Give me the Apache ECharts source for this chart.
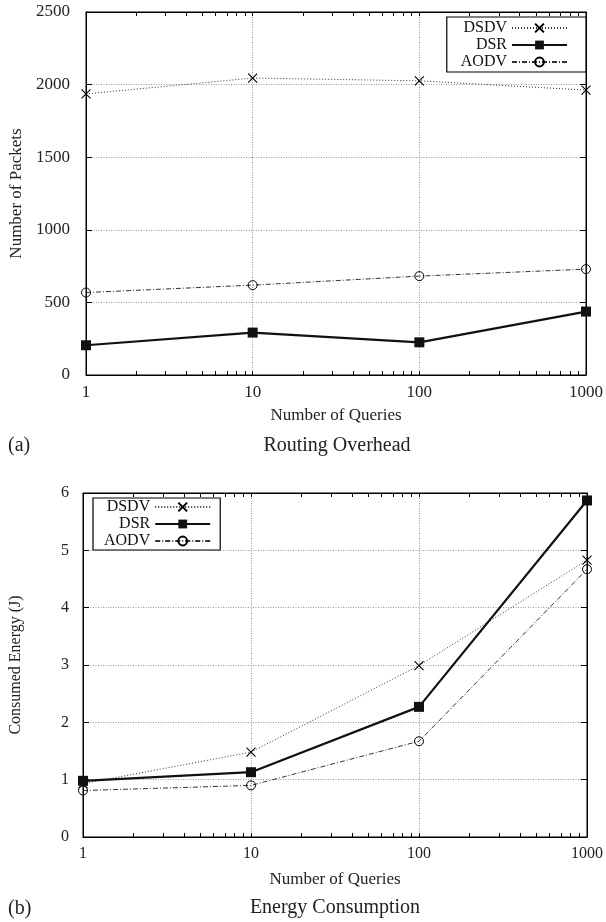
<!DOCTYPE html>
<html>
<head>
<meta charset="utf-8">
<script src="https://cdn.jsdelivr.net/npm/echarts@6/dist/echarts.min.js"></script>
<style>html,body{margin:0;padding:0;background:#fff}#c{width:606px;height:922px}</style>
</head>
<body>
<div id="c"></div>
<script>
// ---- data ----
const queries = [1, 10, 100, 1000];
const seriesNames = ['DSDV', 'DSR', 'AODV'];
const dsdvPackets = [1936, 2045, 2026, 1962];
const dsrPackets = [205, 292, 225, 437];
const aodvPackets = [568, 619, 681, 729];
const dsdvEnergy = [0.93, 1.48, 2.99, 4.83];
const dsrEnergy = [0.98, 1.13, 2.27, 5.87];
const aodvEnergy = [0.81, 0.90, 1.67, 4.67];
const xTickLabels = ['1', '10', '100', '1000'];
const xTickValues = [1, 2, 3, 4, 5, 6, 7, 8, 9, 10, 20, 30, 40, 50, 60, 70, 80, 90, 100, 200, 300, 400, 500, 600, 700, 800, 900, 1000];
const subtitles = ['Routing Overhead', 'Energy Consumption'];
const panelTags = ['(a)', '(b)'];

const FONT = '"Liberation Serif", "DejaVu Serif", serif';

function pairs(vals) { return queries.map((q, i) => [q, vals[i]]); }

const styles = {
  DSDV: {
    lineStyle: { color: '#333', width: 1, type: [1, 2] },
    symbol: 'path://M0,0L10,10M10,0L0,10',
    symbolSize: 9,
    itemStyle: { color: '#000', borderColor: '#000', borderWidth: 1.1 }
  },
  DSR: {
    lineStyle: { color: '#111', width: 2.2, type: 'solid' },
    symbol: 'rect',
    symbolSize: 10,
    itemStyle: { color: '#111', borderColor: '#111', borderWidth: 0 }
  },
  AODV: {
    lineStyle: { color: '#333', width: 1, type: [5, 2, 1, 2] },
    symbol: 'circle',
    symbolSize: 9,
    itemStyle: { color: 'rgba(0,0,0,0)', borderColor: '#000', borderWidth: 1 }
  }
};

function mkSeries(name, vals, gi) {
  const s = styles[name];
  return {
    type: 'line', name: name,
    xAxisIndex: gi * 3, yAxisIndex: gi * 2,
    data: pairs(vals),
    symbol: s.symbol, symbolSize: s.symbolSize, symbolKeepAspect: true,
    lineStyle: s.lineStyle, itemStyle: s.itemStyle,
    clip: false, animation: false, z: 5
  };
}

const grids = [
  { left: 85, right: 17, top: 12, height: 363, show: true, borderColor: '#000', borderWidth: 1 },
  { left: 83, right: 16, top: 493, height: 344, show: true, borderColor: '#000', borderWidth: 1 }
];

function xAxes(gi, nameGap, labelSize) {
  const base = { type: 'log', logBase: 10, min: 1, max: 1000, gridIndex: gi };
  return [
    Object.assign({}, base, {
      position: 'bottom',
      name: 'Number of Queries', nameLocation: 'middle', nameGap: nameGap,
      nameTextStyle: { fontFamily: FONT, fontSize: 17, color: '#222' },
      axisLine: { show: true, onZero: false, lineStyle: { color: '#000', width: 1 } },
      axisTick: { show: true, inside: true, length: 4, customValues: xTickValues, lineStyle: { color: '#000' } },
      axisLabel: { show: true, margin: 9, fontFamily: FONT, fontSize: labelSize, color: '#222',
        formatter: function (v) { const i = queries.indexOf(v); return i >= 0 ? xTickLabels[i] : ''; } },
      splitLine: { show: false }
    }),
    Object.assign({}, base, {
      position: 'top',
      axisLine: { show: true, onZero: false, lineStyle: { color: '#000', width: 1 } },
      axisTick: { show: true, inside: true, length: 4, customValues: xTickValues, lineStyle: { color: '#000' } },
      axisLabel: { show: false },
      splitLine: { show: false }
    }),
    Object.assign({}, base, {
      position: 'bottom',
      axisLine: { show: false, onZero: false },
      axisTick: { show: false },
      axisLabel: { show: false },
      splitLine: { show: true, lineStyle: { color: '#999', width: 1, type: [1, 1.5] } }
    })
  ];
}

function yAxes(gi, name, max, interval, nameGap, labelSize, margin) {
  const base = { type: 'value', min: 0, max: max, interval: interval, gridIndex: gi };
  return [
    Object.assign({}, base, {
      position: 'left',
      name: name, nameLocation: 'middle', nameGap: nameGap,
      nameTextStyle: { fontFamily: FONT, fontSize: labelSize === 17 ? 17 : 16, color: '#222' },
      axisLine: { show: true, onZero: false, lineStyle: { color: '#000', width: 1 } },
      axisTick: { show: true, inside: true, length: 6, lineStyle: { color: '#000' } },
      axisLabel: { show: true, margin: margin, fontFamily: FONT, fontSize: labelSize, color: '#222',
        formatter: function (v) { return String(v); } },
      splitLine: { show: true, lineStyle: { color: '#999', width: 1, type: [1, 1.5] } }
    }),
    Object.assign({}, base, {
      position: 'right',
      axisLine: { show: true, onZero: false, lineStyle: { color: '#000', width: 1 } },
      axisTick: { show: true, inside: true, length: 6, lineStyle: { color: '#000' } },
      axisLabel: { show: false },
      splitLine: { show: false }
    })
  ];
}

const legendCommon = {
  orient: 'vertical', align: 'right',
  data: seriesNames,
  itemWidth: 55, itemHeight: 11, itemGap: 1,
  borderColor: '#000', borderWidth: 1.2, borderRadius: 0,
  backgroundColor: '#fff',
  textStyle: { fontFamily: FONT, fontSize: 16, color: '#111', lineHeight: 16 },
  selectedMode: false
};

const option = {
  animation: false,
  backgroundColor: '#fff',
  grid: grids,
  xAxis: xAxes(0, 32, 17).concat(xAxes(1, 34, 16)),
  yAxis: yAxes(0, 'Number of Packets', 2500, 500, 61, 17, 16).concat(
         yAxes(1, 'Consumed Energy (J)', 6, 1, 59, 16, 14)),
  legend: [
    Object.assign({}, legendCommon, { right: 20, top: 17, padding: [3, 18, 2, 14] }),
    Object.assign({}, legendCommon, { left: 93, top: 498, padding: [1, 9, 1, 11] })
  ],
  series: [
    mkSeries('DSDV', dsdvPackets, 0),
    mkSeries('DSR', dsrPackets, 0),
    mkSeries('AODV', aodvPackets, 0),
    mkSeries('DSDV', dsdvEnergy, 1),
    mkSeries('DSR', dsrEnergy, 1),
    mkSeries('AODV', aodvEnergy, 1)
  ],
  graphic: [
    { type: 'text', x: 8, y: 446, style: { text: panelTags[0], font: '20px ' + FONT, fill: '#222', textVerticalAlign: 'middle' } },
    { type: 'text', x: 337, y: 446, style: { text: subtitles[0], font: '20px ' + FONT, fill: '#222', textAlign: 'center', textVerticalAlign: 'middle' } },
    { type: 'text', x: 8, y: 909, style: { text: panelTags[1], font: '20px ' + FONT, fill: '#222', textVerticalAlign: 'middle' } },
    { type: 'text', x: 335, y: 908, style: { text: subtitles[1], font: '20px ' + FONT, fill: '#222', textAlign: 'center', textVerticalAlign: 'middle' } }
  ]
};

const chart = echarts.init(document.getElementById('c'), null, { renderer: 'canvas' });
chart.setOption(option);
</script>
</body>
</html>
